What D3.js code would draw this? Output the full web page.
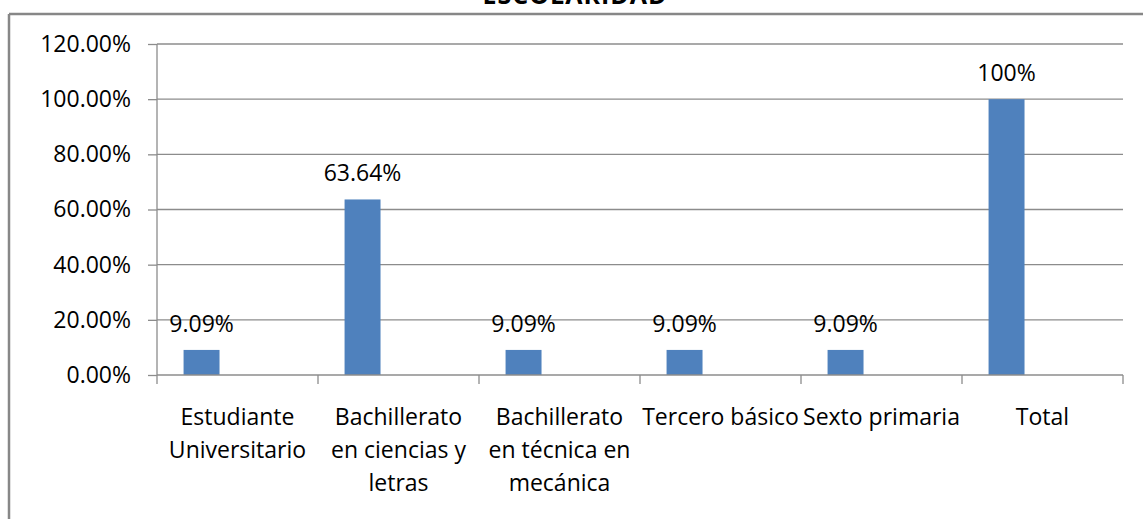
<!DOCTYPE html>
<html>
<head>
<meta charset="utf-8">
<script src="https://cdn.jsdelivr.net/npm/d3@7"></script>
<style>
  html, body { margin: 0; padding: 0; background: #fff; }
  svg { display: block; font-family: "Open Sans", sans-serif; }
</style>
</head>
<body>
<svg id="chart"></svg>
<script>
// ── DATA ──────────────────────────────────────────────────────────────
const categories = [
  ["Estudiante", "Universitario"],
  ["Bachillerato", "en ciencias y", "letras"],
  ["Bachillerato", "en técnica en", "mecánica"],
  ["Tercero básico"],
  ["Sexto primaria"],
  ["Total"]
];
const values = [9.09, 63.64, 9.09, 9.09, 9.09, 100];
const valueLabels = ["9.09%", "63.64%", "9.09%", "9.09%", "9.09%", "100%"];
const yTicks = [0, 20, 40, 60, 80, 100, 120];
const seriesSlots = ["s1", "s2", "s3"]; // only the first series has values

const W = 1143, H = 519;
const plot = { left: 157, right: 1123, top: 44, bottom: 375 };
const BAR = "#4f81bd";
const GRID = "#8c8c8c";

const svg = d3.select("#chart").attr("width", W).attr("height", H);

// ── FRAME + TITLE ─────────────────────────────────────────────────────
svg.append("line").attr("x1", 9).attr("x2", W).attr("y1", 14).attr("y2", 14)
  .attr("stroke", "#878787").attr("stroke-width", 2.5);
svg.append("line").attr("x1", 9).attr("x2", 9).attr("y1", 14).attr("y2", H)
  .attr("stroke", "#878787").attr("stroke-width", 2.5);

svg.append("text")
  .attr("x", 575).attr("y", 4)
  .attr("text-anchor", "middle")
  .style("font-weight", "bold").style("font-size", "25px")
  .style("letter-spacing", "1px")
  .attr("fill", "#000")
  .text("ESCOLARIDAD");

// ── SCALES ────────────────────────────────────────────────────────────
const catIdx = categories.map((_, i) => i);
const x0 = d3.scaleBand().domain(catIdx).range([plot.left, plot.right]).padding(0);
const gap = x0.bandwidth() * 0.165;
const x1 = d3.scaleBand().domain(seriesSlots).range([gap, x0.bandwidth() - gap]).padding(0);
const y = d3.scaleLinear().domain([0, 120]).range([plot.bottom, plot.top]);

// ── GRID ──────────────────────────────────────────────────────────────
svg.append("g")
  .attr("transform", `translate(${plot.left},0)`)
  .call(d3.axisLeft(y).tickValues(yTicks).tickSize(9).tickFormat(d => d.toFixed(2) + "%").tickPadding(17))
  .call(ax => ax.select(".domain").remove())
  .call(ax => ax.selectAll(".tick line").attr("stroke", GRID).attr("stroke-width", 1.3))
  .call(ax => ax.selectAll(".tick text")
    .style("font-size", "23px").style("font-family", "'Open Sans', sans-serif")
    .attr("fill", "#000"));

svg.append("g")
  .selectAll("line")
  .data(yTicks.filter(d => d > 0))
  .join("line")
    .attr("x1", plot.left).attr("x2", plot.right)
    .attr("y1", d => y(d)).attr("y2", d => y(d))
    .attr("stroke", GRID).attr("stroke-width", 1.3);

// y axis line
svg.append("line")
  .attr("x1", plot.left).attr("x2", plot.left)
  .attr("y1", plot.top).attr("y2", plot.bottom)
  .attr("stroke", GRID).attr("stroke-width", 1.3);

// ── BARS ──────────────────────────────────────────────────────────────
svg.append("g")
  .selectAll("rect")
  .data(values)
  .join("rect")
    .attr("x", (d, i) => x0(i) + x1("s1"))
    .attr("width", x1.bandwidth())
    .attr("y", d => y(d))
    .attr("height", d => y(0) - y(d))
    .attr("fill", BAR);

// ── X AXIS ────────────────────────────────────────────────────────────
const xAxis = svg.append("g");
xAxis.append("line")
  .attr("x1", plot.left).attr("x2", plot.right)
  .attr("y1", y(0)).attr("y2", y(0))
  .attr("stroke", GRID).attr("stroke-width", 1.3);
xAxis.selectAll(".xtick")
  .data(catIdx.concat([categories.length]))
  .join("line")
    .attr("class", "xtick")
    .attr("x1", i => i < categories.length ? x0(i) : plot.right)
    .attr("x2", i => i < categories.length ? x0(i) : plot.right)
    .attr("y1", y(0)).attr("y2", y(0) + 9)
    .attr("stroke", GRID).attr("stroke-width", 1.3);

const catLabels = xAxis.selectAll(".cat")
  .data(categories)
  .join("text")
    .attr("class", "cat")
    .attr("text-anchor", "middle")
    .attr("x", (d, i) => x0(i) + x0.bandwidth() / 2)
    .attr("y", 425)
    .style("font-size", "23px")
    .attr("fill", "#000");
catLabels.selectAll("tspan")
  .data(d => d)
  .join("tspan")
    .attr("x", function() { return this.parentNode.getAttribute("x"); })
    .attr("dy", (d, i) => i === 0 ? 0 : 33)
    .text(d => d);

// ── VALUE LABELS ──────────────────────────────────────────────────────
svg.append("g")
  .selectAll("text")
  .data(values)
  .join("text")
    .attr("text-anchor", "middle")
    .attr("x", (d, i) => x0(i) + x1("s1") + x1.bandwidth() / 2)
    .attr("y", d => y(d) - 18)
    .style("font-size", "23px")
    .attr("fill", "#000")
    .text((d, i) => valueLabels[i]);
</script>
</body>
</html>
